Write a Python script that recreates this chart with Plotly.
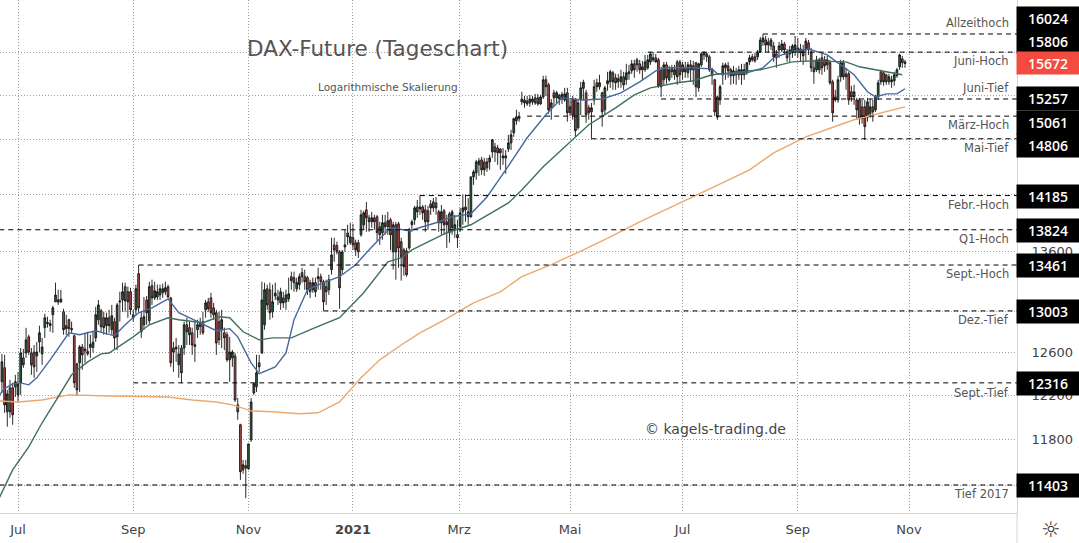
import plotly.graph_objects as go

# daily candles: (open, high, low, close)
jun20 = [(12326,12588,12223,12513),(12457,12579,12040,12113),(12050,12251,11915,12214),(12270,12345,11996,12050),
         (12270,12317,11933,12023),(12279,12391,12186,12326)]
jul20 = [(12205,12419,12140,12307),(12317,12644,12205,12597),(12550,12635,12457,12485),(12597,12838,12550,12722),
         (12751,12771,12579,12606),(12597,12644,12391,12485),(12606,12673,12363,12466),(12569,12702,12419,12606),
         (12702,12859,12606,12790),(12588,12741,12485,12654),(12840,12975,12741,12936),(12880,12946,12840,12890),
         (12860,12917,12800,12880),(12965,13053,12790,13033),(13092,13283,13092,13160),(13111,13212,13062,13090),
         (13120,13212,13082,13092),(12995,13024,12771,12820),(12859,12965,12771,12830),(12917,12927,12751,12830),
         (12820,12898,12790,12830),(12761,12771,12270,12317),(12494,12504,12195,12251)]
aug20 = [(12504,12673,12232,12654),(12654,12683,12438,12579),(12616,12790,12504,12635),(12610,12800,12570,12590),
         (12650,12771,12550,12680),(12650,12800,12600,12700),(12741,13043,12702,12965),(12917,13111,12868,13062),
         (13004,13024,12800,12849),(12936,12995,12771,12840),(12859,12985,12771,12936),(12936,13014,12790,12859),
         (12820,13062,12771,12956),(12898,12936,12625,12741),(12751,13082,12625,13062),(13090,13192,12898,13100),
         (13111,13283,12995,13192),(13243,13283,12995,13101),(13192,13243,12936,13092),(13192,13232,12965,13014)]
sep20 = [(12965,13014,12898,12936),(13014,13263,12965,13222),(13374,13461,12995,13033),(12936,12995,12741,12800),
         (12868,13140,12820,12946),(13111,13151,12868,12985),(12907,13293,12868,13243),(13253,13313,13062,13131),
         (13131,13293,13111,13202),(13141,13263,13111,13192),(13161,13263,13111,13222),(13182,13273,13131,13222),
         (13192,13293,13161,13232),(13243,13263,13131,13141),(13131,13141,12466,12504),(12644,12702,12419,12606),
         (12635,12741,12513,12654),(12485,12673,12363,12588),(12644,12673,12316,12410),(12644,12898,12579,12868),
         (12868,12936,12673,12800),(12840,12898,12673,12771)]
oct20 = [(12790,12840,12579,12673),(12675,12898,12513,12660),(12820,12917,12741,12868),(12850,12936,12771,12890),
         (12898,12995,12771,12790),(13014,13111,12936,13082),(13092,13131,12995,13024),(13131,13182,12936,12985),
         (13033,13082,12917,12965),(12985,13014,12579,12693),(12898,12995,12673,12722),(12820,13014,12644,12917),
         (12790,12840,12625,12741),(12771,12800,12513,12532),(12532,12751,12326,12606),(12550,12625,12466,12606),
         (12569,12597,12140,12158),(12113,12177,11978,12050),(11933,11942,11447,11517),(11534,11621,11500,11578),
         (11570,11621,11290,11550)]
nov20 = [(11543,11762,11534,11762),(11798,12177,11780,12140),(12223,12316,12205,12307),(12280,12579,12232,12410),
         (12504,12579,12419,12466),(12597,13293,12588,13111),(12868,13283,12820,13212),(13222,13263,13014,13062),
         (13212,13283,12917,12985),(12995,13263,12936,13092),(13180,13283,13111,13150),(13141,13212,13062,13111),
         (13082,13232,13014,13192),(13131,13192,13033,13082),(13092,13212,13014,13161),(13121,13333,13092,13172),
         (13343,13394,13212,13303),(13333,13394,13192,13283),(13222,13333,13192,13283),(13263,13374,13212,13343),
         (13384,13434,13283,13343)]
dec20 = [(13343,13414,13212,13293),(13333,13353,13161,13212),(13283,13313,13131,13192),(13212,13333,13182,13283),
         (13283,13333,13141,13192),(13323,13434,13212,13343),(13343,13374,13212,13293),(13293,13313,13004,13092),
         (13243,13313,13062,13192),(13212,13363,13161,13313),(13414,13741,13363,13564),(13667,13741,13494,13615),
         (13660,13700,13570,13595),(13595,13615,13024,13232),(13414,13615,13363,13595),(13646,13824,13595,13667),
         (13790,13876,13667,13750),(13690,13897,13667,13751)]
jan21 = [(13741,13887,13615,13667),(13689,13720,13554,13615),(13689,13720,13534,13595),(13772,14033,13751,13980),
         (13876,14023,13824,14002),(14033,14117,13803,13949),(13949,13980,13803,13907),(13907,14012,13845,13949),
         (13949,13980,13824,13907),(13960,13980,13710,13793),(13855,13907,13667,13772),(13793,13980,13720,13897),
         (13897,13980,13772,13855),(13855,14012,13772,13918),(13928,13949,13615,13772),(13595,13907,13414,13876),
         (13876,13907,13313,13595),(13886,13907,13434,13636),(13699,13741,13303,13544)]
feb21 = [(13615,13636,13353,13444),(13605,13636,13343,13363),(13636,13845,13615,13824),(13876,13928,13803,13907),
         (13928,14075,13876,14054),(14064,14138,13949,14012),(14043,14185,13980,14064),(14064,14085,13928,14002),
         (14033,14085,13803,13907),(14023,14075,13824,13907),(14096,14138,13980,14054),(14117,14159,14012,14054),
         (14106,14170,13980,14054),(14012,14033,13803,13897),(13897,14085,13772,14012),(14023,14043,13772,13876),
         (13907,13980,13636,13876),(13991,14012,13689,13793),(13845,14033,13772,14012),(13824,13980,13741,13876)]
mar21 = [(13772,13928,13636,13741),(13855,14054,13803,14002),(14012,14196,13876,14054),(14064,14196,13907,14033),
         (13960,14159,13876,14012),(13960,14387,13949,14387),(14387,14463,14300,14441),(14430,14572,14355,14550),
         (14518,14594,14398,14561),(14572,14605,14409,14463),(14550,14594,14398,14463),(14485,14594,14441,14550),
         (14550,14627,14463,14594),(14660,14805,14594,14794),(14715,14760,14550,14660),(14703,14738,14518,14650),
         (14690,14703,14463,14650),(14594,14703,14518,14616),(14616,14681,14420,14594),(14692,14850,14660,14760),
         (14760,14907,14681,14850),(14873,15043,14828,15032),(15008,15133,14964,15053)]
apr21 = [(15032,15110,14998,15060),(15257,15340,15190,15224),(15246,15293,15156,15212),(15235,15293,15178,15201),
         (15212,15305,15167,15257),(15224,15293,15190,15257),(15270,15316,15190,15212),(15270,15316,15178,15201),
         (15200,15305,15190,15280),(15281,15527,15257,15480),(15480,15527,15293,15398),(15421,15445,15088,15133),
         (15156,15257,15020,15212),(15328,15363,15178,15270),(15270,15351,15201,15328),(15300,15316,15190,15257),
         (15257,15340,15201,15310),(15246,15386,15224,15316),(15328,15386,14998,15099)]
may21 = [(15099,15246,15061,15167),(15257,15293,15020,15072),(15246,15270,14828,14896),(14930,15246,14907,15212),
         (15246,15456,15072,15386),(15380,15480,15246,15450),(15328,15363,14986,15077),(15156,15190,15020,15099),
         (15110,15212,14806,15156),(15246,15480,15190,15398),(15445,15492,15340,15398),(15398,15538,15363,15445),
         (15328,15340,14942,15110),(15133,15410,15072,15386),(15433,15573,15351,15468),(15456,15597,15386,15573),
         (15561,15585,15363,15456),(15503,15550,15363,15445),(15456,15550,15386,15492),(15456,15597,15386,15515),
         (15515,15573,15363,15421)]
jun21 = [(15480,15667,15421,15561),(15550,15655,15480,15573),(15585,15714,15550,15667),(15667,15714,15503,15597),
         (15714,15738,15573,15655),(15667,15714,15550,15597),(15632,15702,15480,15597),(15597,15773,15573,15690),
         (15620,15773,15597,15714),(15690,15806,15655,15785),(15738,15806,15690,15714),(15738,15785,15680,15690),
         (15714,15738,15386,15410),(15597,15632,15281,15398),(15480,15690,15421,15655),(15655,15690,15433,15503),
         (15480,15643,15456,15597),(15620,15655,15503,15573),(15538,15655,15480,15597),(15690,15714,15421,15515),
         (15690,15714,15445,15538)]
jul21 = [(15573,15690,15480,15655),(15620,15690,15503,15573),(15561,15690,15503,15655),(15655,15714,15456,15597),
         (15643,15702,15421,15597),(15680,15690,15281,15398),(15386,15680,15340,15667),(15655,15806,15632,15785),
         (15773,15806,15714,15806),(15785,15806,15690,15750),(15750,15773,15573,15597),(15597,15620,15421,15527),
         (15480,15492,15061,15110),(15281,15293,15020,15049),(15246,15421,15190,15398),(15538,15680,15421,15643),
         (15620,15680,15480,15655),(15643,15690,15503,15585),(15597,15620,15421,15527),(15527,15643,15433,15585),
         (15573,15620,15421,15538)]
aug21 = [(15538,15643,15480,15597),(15538,15667,15421,15597),(15538,15667,15480,15597),(15561,15690,15538,15680),
         (15690,15773,15655,15738),(15750,15785,15690,15714),(15750,15797,15680,15702),(15750,15832,15714,15797),
         (15806,15988,15797,15952),(15928,16024,15880,15976),(15952,16000,15806,15892),(15928,15976,15806,15892),
         (15880,15976,15832,15952),(15880,15928,15690,15750),(15785,15832,15620,15738),(15832,15928,15738,15880),
         (15832,15952,15806,15904),(15904,15928,15773,15832),(15806,15844,15690,15738),(15785,15880,15690,15832),
         (15797,15904,15738,15880),(15832,16000,15761,15892)]
sep21 = [(15856,15976,15738,15806),(15844,15904,15690,15797),(15832,15892,15655,15761),(15832,15976,15690,15940),
         (15916,15952,15773,15832),(15806,15856,15573,15620),(15620,15714,15433,15573),(15597,15761,15573,15714),
         (15597,15738,15550,15714),(15738,15785,15538,15620),(15714,15761,15573,15643),(15655,15761,15597,15714),
         (15680,15714,15421,15445),(15456,15480,14998,15099),(15281,15363,15224,15246),(15246,15527,15212,15480),
         (15515,15714,15456,15680),(15680,15714,15480,15515),(15550,15620,15363,15515),(15550,15573,15190,15246),
         (15340,15410,15224,15281),(15281,15421,15190,15340)]
oct21 = [(15246,15270,15020,15133),(15246,15270,14964,15032),(15167,15246,14975,15032),(15167,15246,14794,14942),
         (15049,15270,14998,15224),(15088,15257,15043,15167),(15167,15246,14998,15110),(15133,15305,15110,15281),
         (15281,15480,15246,15445),(15573,15597,15421,15456),(15561,15585,15410,15456),(15538,15550,15421,15456),
         (15456,15550,15421,15515),(15456,15527,15386,15480),(15468,15573,15410,15538),(15527,15620,15503,15597),
         (15632,15785,15597,15773),(15726,15761,15620,15680),(15690,15714,15620,15672)]

first_bar = -6  # sessions are counted from 1 July 2020

# moving averages, read at the bends: session number and price
fast_ma_x = [-7,-5,-2,1,4,7,12,17,19,23,29,36,40,45,50,56,60,67,74,79,82,87,90,96,100,103,108,114,120,126,132,139,
             146,156,162,169,175,182,190,197,203,211,218,225,232,238,242,250,259,261,266,272,278,282,288,295,302,
             307,312,317,320,324,328,331]
fast_ma_y = [12200,12263,12307,12316,12298,12363,12532,12722,12790,12771,12810,12761,12868,12985,13033,13121,12985,
             12898,12810,12830,12751,12504,12401,12466,12597,12917,13212,13283,13343,13464,13646,13845,13814,13897,
             13960,13991,14170,14463,14817,15077,15270,15246,15257,15328,15456,15585,15620,15620,15608,15550,15550,
             15561,15620,15738,15806,15844,15773,15655,15538,15340,15281,15316,15316,15375]
mid_ma_x = [-7,-2,4,9,15,20,26,31,34,43,49,56,60,69,75,79,84,90,95,102,110,120,129,138,143,147,160,169,183,188,196,
            206,213,223,230,236,246,252,259,266,277,289,296,309,314,322,330]
mid_ma_y = [11292,11534,11735,11951,12186,12391,12513,12588,12597,12751,12868,12936,12917,12888,12946,12936,12800,
            12722,12741,12741,12830,12936,13182,13494,13534,13615,13793,13876,14106,14246,14496,14772,14964,15156,
            15305,15386,15445,15468,15538,15561,15597,15690,15702,15690,15632,15585,15538]
slow_ma_x = [-7,0,9,16,19,34,56,65,74,80,87,95,105,112,120,128,135,143,150,160,170,180,188,199,211,221,232,254,273,
             282,294,312,331]
slow_ma_y = [12149,12140,12158,12186,12205,12195,12186,12158,12140,12113,12059,12050,12032,12041,12140,12363,12532,
             12673,12790,12927,13082,13192,13343,13464,13615,13751,13907,14201,14463,14650,14828,15020,15167]

level_values = [16024, 15806, 15257, 15061, 14806, 14185, 13824, 13461, 13003, 12316, 11403]
level_starts = [278, 235, 240, 190, 214, 150, -7, 45, 114, 43, -7]
level_names = ["Allzeithoch", "Juni-Hoch", "Juni-Tief", "März-Hoch", "Mai-Tief", "Febr.-Hoch", "Q1-Hoch",
               "Sept.-Hoch", "Dez.-Tief", "Sept.-Tief", "Tief 2017"]
last_price = 15672

month_ticks = [0, 43, 86, 125, 164.6, 206, 248, 291, 332.5]
month_labels = ["Jul", "Sep", "Nov", "<b>2021</b>", "Mrz", "Mai", "Jul", "Sep", "Nov"]
price_ticks = [11400, 11800, 12200, 12600, 13000, 13600, 14200, 14800, 15300, 15800]
# the other ticks sit completely behind the price boxes
price_labels = ["", "11800", "12200", "12600", "", "13600", "", "", "", ""]

bars = jun20 + jul20 + aug20 + sep20 + oct20 + nov20 + dec20 + jan21 + feb21 + mar21 + apr21 + may21 + jun21 + jul21 + aug21 + sep21 + oct21
bar_x = list(range(first_bar, first_bar + len(bars)))

PLOT_H = 513
PLOT_W = 1017
x_end = 372.8

fig = go.Figure()

fig.add_trace(go.Candlestick(
    x=bar_x,
    open=[b[0] for b in bars],
    high=[b[1] for b in bars],
    low=[b[2] for b in bars],
    close=[b[3] for b in bars],
    increasing=dict(line=dict(color='#141414', width=0.9), fillcolor='#2c6040'),
    decreasing=dict(line=dict(color='#141414', width=0.9), fillcolor='#b8504a'),
    whiskerwidth=0,
))

# moving averages
for xs, ys, col in [(slow_ma_x, slow_ma_y, '#eda86c'), (mid_ma_x, mid_ma_y, '#3f6f60'), (fast_ma_x, fast_ma_y, '#46699c')]:
    fig.add_trace(go.Scatter(x=xs, y=ys, mode='lines', line=dict(color=col, width=1.4)))

# horizontal levels
for value, start in zip(level_values, level_starts):
    fig.add_trace(go.Scatter(x=[start, x_end], y=[value, value], mode='lines',
                             line=dict(color='#000000', width=1, dash='5px,4px')))

annotations = []


def px_y(y):
    return 1 - y / PLOT_H


# level names on the right
name_rows = [23, 61, 88, 125, 148, 205, 239, 274, 320, 393, 494]
for name, y in zip(level_names, name_rows):
    annotations.append(dict(x=1011 / PLOT_W, y=px_y(y), xref='paper', yref='paper', text=name, showarrow=False,
                            xanchor='right', yanchor='middle', font=dict(family='DejaVu Sans', size=11.5, color='#555555')))

# price boxes on the axis
box_rows = [18, 41, 99, 122, 145, 196, 230, 265, 311, 383, 485]
for value, y in zip(level_values, box_rows):
    annotations.append(dict(x=1048 / PLOT_W, y=px_y(y), xref='paper', yref='paper', text=str(value), showarrow=False,
                            xanchor='center', yanchor='middle', width=62, height=23, bgcolor='#000000', borderpad=0,
                            font=dict(family='Open Sans', size=14, color='#ffffff', weight=600)))
annotations.append(dict(x=1048 / PLOT_W, y=px_y(63), xref='paper', yref='paper', text=str(last_price), showarrow=False,
                        xanchor='center', yanchor='middle', width=62, height=22, bgcolor='#f44b40', borderpad=0,
                        font=dict(family='Open Sans', size=14, color='#ffffff', weight=600)))

annotations.append(dict(x=245 / PLOT_W, y=px_y(48), xref='paper', yref='paper', text='DAX-Future (Tageschart)',
                        showarrow=False, xanchor='left', yanchor='middle',
                        font=dict(family='DejaVu Sans', size=21.5, color='#555555')))
annotations.append(dict(x=316 / PLOT_W, y=px_y(87), xref='paper', yref='paper', text='Logarithmische Skalierung',
                        showarrow=False, xanchor='left', yanchor='middle',
                        font=dict(family='DejaVu Sans', size=10.5, color='#555555')))
annotations.append(dict(x=643 / PLOT_W, y=px_y(429), xref='paper', yref='paper', text='© kagels-trading.de',
                        showarrow=False, xanchor='left', yanchor='middle',
                        font=dict(family='DejaVu Sans', size=14, color='#444444')))
annotations.append(dict(x=1051 / PLOT_W, y=px_y(529), xref='paper', yref='paper', text='☼', showarrow=False,
                        xanchor='center', yanchor='middle', font=dict(family='DejaVu Sans', size=22, color='#333333')))

fig.update_layout(
    width=1079,
    height=543,
    margin=dict(l=0, r=62, t=0, b=30),
    paper_bgcolor='white',
    plot_bgcolor='white',
    showlegend=False,
    boxgap=0.08,
    annotations=annotations,
    shapes=[dict(type='line', xref='paper', yref='paper', x0=1, x1=1, y0=-30 / PLOT_H, y1=0,
                 line=dict(color='#d1d4dc', width=1))],
    xaxis=dict(
        type='linear',
        range=[-6.72, x_end],
        rangeslider=dict(visible=False),
        tickvals=month_ticks,
        ticktext=month_labels,
        tickfont=dict(family='DejaVu Sans', size=13, color='#444444'),
        showgrid=True,
        gridcolor='#a0a0a0',
        griddash='1px,2px',
        gridwidth=1,
        zeroline=False,
        showline=True,
        linecolor='#d1d4dc',
        ticks='outside',
        ticklen=4,
        tickcolor='rgba(0,0,0,0)',
    ),
    yaxis=dict(
        type='log',
        side='right',
        range=[4.04784, 4.21590],
        tickvals=price_ticks,
        ticktext=price_labels,
        tickfont=dict(family='DejaVu Sans', size=13, color='#444444'),
        showgrid=True,
        gridcolor='#a0a0a0',
        griddash='1px,2px',
        gridwidth=1,
        zeroline=False,
        showline=True,
        linecolor='#d1d4dc',
        ticks='outside',
        ticklen=11,
        tickcolor='rgba(0,0,0,0)',
    ),
)

# the page's default body margin would push the chart off its place
fig.write_html("out.html", config=dict(displayModeBar=False), post_script="document.body.style.margin='0';")
